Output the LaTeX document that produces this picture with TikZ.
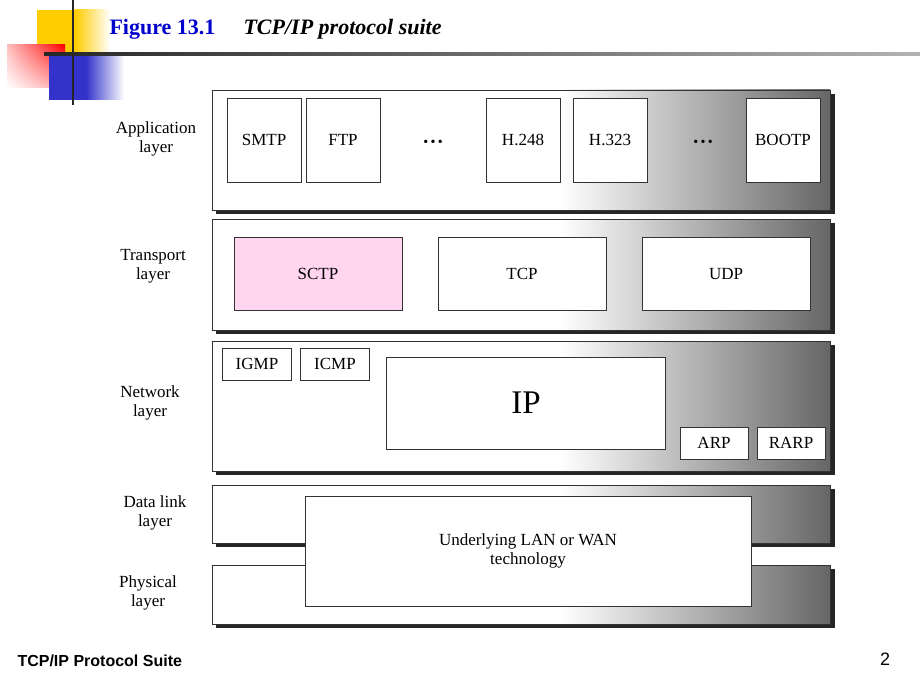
\documentclass[tikz,border=0pt]{standalone}
\usepackage{fontspec}
\setmainfont{Liberation Serif}
\newfontfamily\sansf{Liberation Sans}
\usetikzlibrary{shadings}
\definecolor{logoy}{HTML}{FFCC00}
\definecolor{logob}{HTML}{3333CC}
\begin{document}
\begin{tikzpicture}[x=1pt,y=-1pt,
  layer/.style={draw=black!80,line width=0.8pt},
  box/.style={draw=black!80,line width=0.8pt,fill=white,font=\fontsize{17}{20}\selectfont},
  lbl/.style={font=\fontsize{17}{20}\selectfont,align=center},
  dots/.style={font=\fontsize{14}{14}\selectfont}]
\useasboundingbox (0,0) rectangle (920,690);
% logo
\fill[logoy] (37,10) rectangle (75,55);
\shade[left color=logoy,right color=white] (75,10) rectangle (110,55);
\shade[upper right=red,lower left=white,upper left=red!25,lower right=red!35] (7,45) rectangle (65,88);
\fill[logob] (49,55) rectangle (86,100);
\shade[left color=logob,right color=white] (86,55) rectangle (124,100);
\draw[line width=2pt,black!85] (73,0) -- (73,105);
\shade[left color=black!85,right color=black!30] (44,53) rectangle (920,56);
\node[anchor=west,font=\fontsize{22}{26}\selectfont\bfseries,text=blue!80!black] (fig) at (106,29) {Figure 13.1};
\node[anchor=west,font=\fontsize{22}{26}\selectfont\bfseries\itshape] (ttl) at (240,29) {TCP/IP protocol suite};
% layers
\foreach \n/\t/\b in {app/90/210,tra/219/330,net/341/471,dl/485/543,ph/565/624}{
  \fill[black!85] (216,\t+4) rectangle (835,\b+4);
  \fill[white] (212,\t) rectangle (830,\b);
  \shade[left color=white,right color=black!60] (560,\t) rectangle (830,\b);
  \draw[layer] (212,\t) rectangle (830,\b);
  \coordinate (\n) at (212,\t);
}
% layer labels
\node[lbl] (la) at (156,139) {Application\\[-1pt]layer};
\node[lbl] (lt) at (153,266) {Transport\\[-1pt]layer};
\node[lbl] (ln) at (150,403) {Network\\[-1pt]layer};
\node[lbl] (ld) at (155,513) {Data link\\[-1pt]layer};
\node[lbl] (lp) at (148,593) {Physical\\[-1pt]layer};
% application
\node[box,minimum width=74,minimum height=84] (smtp) at (264,140) {SMTP};
\node[box,minimum width=74,minimum height=84] (ftp) at (343,140) {FTP};
\node[dots] (d1) at (433,143) {\textbullet\,\textbullet\,\textbullet};
\node[box,minimum width=74,minimum height=84] (h248) at (523,140) {H.248};
\node[box,minimum width=74,minimum height=84] (h323) at (610,140) {H.323};
\node[dots] (d2) at (703,143) {\textbullet\,\textbullet\,\textbullet};
\node[box,minimum width=74,minimum height=84] (bootp) at (783,140) {BOOTP};
% transport
\node[box,fill=pink!70!magenta!35,minimum width=168,minimum height=73] (sctp) at (318,274) {SCTP};
\node[box,minimum width=168,minimum height=73] (tcp) at (522,274) {TCP};
\node[box,minimum width=168,minimum height=73] (udp) at (726,274) {UDP};
% network
\node[box,minimum width=69,minimum height=32] (igmp) at (257,364) {IGMP};
\node[box,minimum width=69,minimum height=32] (icmp) at (335,364) {ICMP};
\node[box,minimum width=279,minimum height=92,font=\fontsize{33}{36}\selectfont] (ip) at (526,403) {IP};
\node[box,minimum width=68,minimum height=32] (arp) at (714,443) {ARP};
\node[box,minimum width=68,minimum height=32] (rarp) at (791,443) {RARP};
% underlying
\node[box,minimum width=446,minimum height=110,align=center] (lan) at (528,551) {Underlying LAN or WAN\\[-1pt]technology};
% footer
\node[anchor=west,font=\sansf\fontsize{16}{18}\selectfont\bfseries] (foot) at (14,661) {TCP/IP Protocol Suite};
\node[font=\sansf\fontsize{18}{20}\selectfont] (pg) at (885,659) {2};
\end{tikzpicture}
\end{document}
